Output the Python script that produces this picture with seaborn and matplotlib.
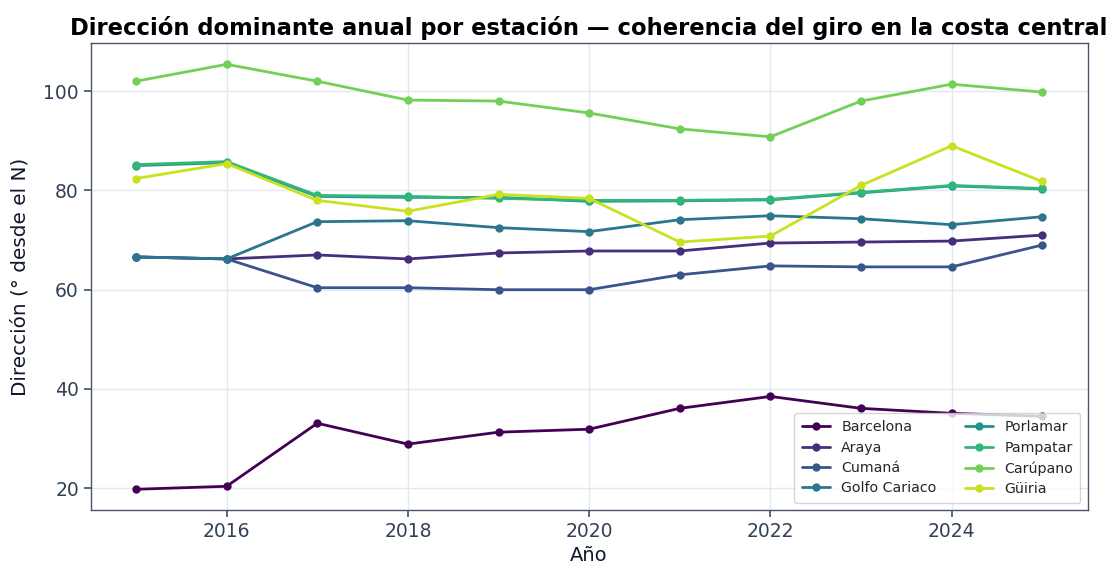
import numpy as np
import pandas as pd
import matplotlib.pyplot as plt
import seaborn as sns

years = list(range(2015, 2026))

barcelona = [19.8, 20.4, 33.1, 28.9, 31.3, 31.9, 36.1, 38.5, 36.1, 35.1, 34.5]
araya = [66.6, 66.2, 67.0, 66.2, 67.4, 67.8, 67.8, 69.4, 69.6, 69.8, 71.0]
cumana = [66.6, 66.2, 60.4, 60.4, 60.0, 60.0, 63.0, 64.8, 64.6, 64.6, 69.0]
golfo_cariaco = [66.6, 66.2, 73.7, 73.9, 72.5, 71.7, 74.1, 74.9, 74.3, 73.1, 74.7]
porlamar = [85.0, 85.6, 78.8, 78.6, 78.6, 77.8, 77.9, 78.1, 79.5, 80.9, 80.3]
pampatar = [85.2, 85.8, 79.0, 78.8, 78.4, 78.0, 78.0, 78.2, 79.6, 81.0, 80.4]
carupano = [102.0, 105.4, 102.0, 98.2, 98.0, 95.6, 92.4, 90.8, 98.0, 101.4, 99.8]
guiria = [82.4, 85.4, 78.0, 75.8, 79.2, 78.4, 69.6, 70.8, 81.0, 89.0, 81.8]

stations = ["Barcelona", "Araya", "Cumaná", "Golfo Cariaco",
            "Porlamar", "Pampatar", "Carúpano", "Güiria"]
series = [barcelona, araya, cumana, golfo_cariaco, porlamar, pampatar, carupano, guiria]

rows = []
for name, vals in zip(stations, series):
    for y, v in zip(years, vals):
        rows.append({"year": y, "station": name, "dir": v})
df = pd.DataFrame(rows)

sns.set_theme(style="whitegrid")
plt.rcParams['font.family'] = ['DejaVu Sans']

palette = [tuple(c) for c in plt.cm.viridis(np.linspace(0, 0.92, 8))]

fig, ax = plt.subplots(figsize=(11.2, 5.81), dpi=100)
ax.set_facecolor("white")

sns.lineplot(data=df, x="year", y="dir", hue="station", hue_order=stations,
             palette=palette, marker="o", markersize=6, markeredgewidth=0,
             linewidth=2, ax=ax)

ax.set_xlim(2014.5, 2025.5)
ax.set_ylim(15.6, 109.7)
ax.set_xticks([2016, 2018, 2020, 2022, 2024])
ax.set_yticks([20, 40, 60, 80, 100])
ax.grid(True, color="#e2e8f0", linewidth=1)
for s in ax.spines.values():
    s.set_color("#475569")
    s.set_linewidth(1)
ax.tick_params(axis="both", colors="#334155", labelsize=13.5, length=5,
               left=True, bottom=True)
ax.tick_params(axis="both", color="#475569")

ax.set_xlabel("Año", fontsize=14, color="#0f172a")
ax.set_ylabel("Dirección (° desde el N)", fontsize=14.4, color="#0f172a", labelpad=10)
ax.set_title("Dirección dominante anual por estación — coherencia del giro en la costa central",
             fontsize=16.3, fontweight="bold", color="black")

ax.legend(loc="lower right", ncol=2, fontsize=10.2, frameon=True, title=None,
          columnspacing=2.0, handlelength=2.0, borderpad=0.5, labelspacing=0.45)

fig.subplots_adjust(left=0.081, right=0.971, top=0.926, bottom=0.122)
plt.savefig("out.png", dpi=100)
